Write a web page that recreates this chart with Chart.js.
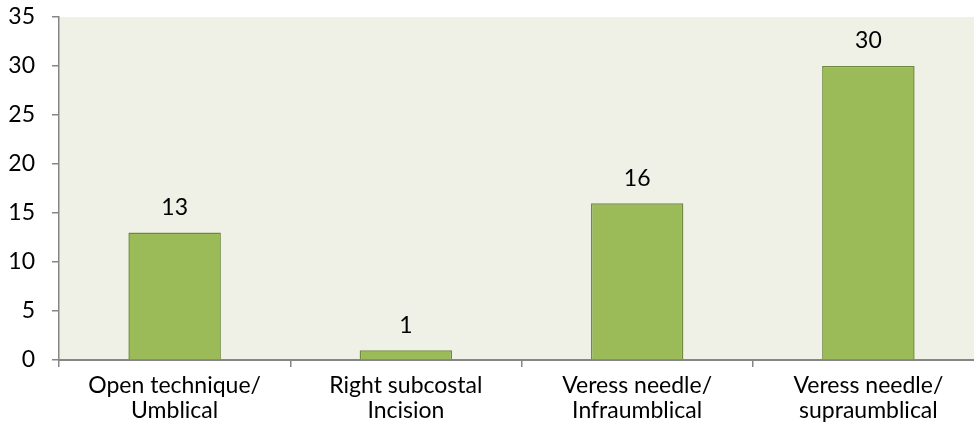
<!DOCTYPE html>
<html>
<head>
<meta charset="utf-8">
<script src="https://cdn.jsdelivr.net/npm/chart.js@4/dist/chart.umd.min.js"></script>
<style>
html,body{margin:0;padding:0;background:#fff;overflow:hidden;}
#wrap{position:relative;width:986px;height:436px;}
</style>
</head>
<body>
<div id="wrap"><canvas id="c"></canvas></div>
<script>
const categories = [["Open technique/","Umblical"],["Right subcostal","Incision"],["Veress needle/","Infraumblical"],["Veress needle/","supraumblical"]];
const values = [13, 1, 16, 30];
const yTicks = [0, 5, 10, 15, 20, 25, 30, 35];

const FONT = "Lato, 'Open Sans', sans-serif";

const bgPlugin = {
  id: 'plotBg',
  beforeDraw(chart) {
    const {ctx, chartArea: a} = chart;
    ctx.save();
    ctx.fillStyle = '#eff1e7';
    ctx.fillRect(a.left, a.top, a.right - a.left, a.bottom - a.top);
    ctx.restore();
  }
};
const labelPlugin = {
  id: 'valLabels',
  afterDatasetsDraw(chart) {
    const {ctx} = chart;
    const meta = chart.getDatasetMeta(0);
    ctx.save();
    ctx.font = '23px ' + FONT;
    ctx.fillStyle = '#000';
    ctx.textAlign = 'center';
    ctx.textBaseline = 'middle';
    meta.data.forEach((bar, i) => {
      ctx.fillText(String(values[i]), bar.x, bar.y - 25);
    });
    ctx.restore();
  }
};

new Chart(document.getElementById('c'), {
  type: 'bar',
  data: {
    labels: categories,
    datasets: [{
      data: values,
      backgroundColor: '#9bbb59',
      borderColor: '#71893f',
      borderWidth: 1.5,
      categoryPercentage: 1.0,
      barPercentage: 0.4
    }]
  },
  options: {
    responsive: true,
    maintainAspectRatio: false,
    animation: false,
    layout: {padding: {top: 17, right: 2, left: 0, bottom: 0}},
    plugins: {legend: {display: false}, tooltip: {enabled: false}},
    scales: {
      y: {
        min: 0, max: 35,
        afterBuildTicks(axis) { axis.ticks = yTicks.map(v => ({value: v})); },
        afterFit(axis) { axis.width = 59; axis.paddingTop = 0; axis.paddingBottom = 0; },
        ticks: {color: '#000', font: {size: 23, family: FONT}, padding: 17},
        grid: {drawOnChartArea: false, drawTicks: true, tickLength: 7, color: '#868686', lineWidth: 1.5},
        border: {color: '#868686', width: 1.5}
      },
      x: {
        afterFit(axis) { axis.height = 76; axis.paddingLeft = 0; axis.paddingRight = 0; },
        ticks: {color: '#000', font: {size: 23, family: FONT, lineHeight: 1.09}, padding: 6, maxRotation: 0, autoSkip: false},
        grid: {drawOnChartArea: false, drawTicks: true, tickLength: 7, color: '#868686', lineWidth: 1.5, offset: true},
        border: {color: '#868686', width: 2}
      }
    }
  },
  plugins: [bgPlugin, labelPlugin]
});
</script>
</body>
</html>
